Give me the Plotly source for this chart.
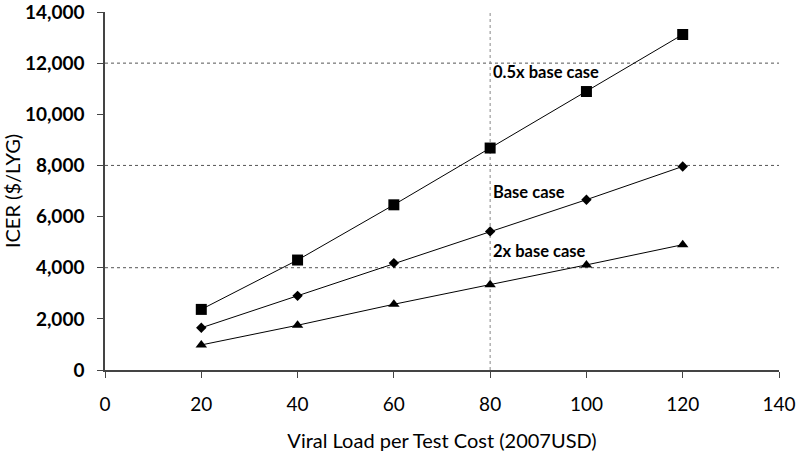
import plotly.graph_objects as go

x_cost = [20, 40, 60, 80, 100, 120]
half_base = [2370, 4300, 6460, 8680, 10890, 13120]
base_case = [1650, 2900, 4180, 5420, 6660, 7960]
double_base = [980, 1750, 2570, 3330, 4110, 4900]
series_names = ["0.5x base case", "Base case", "2x base case"]
y_ticks = [0, 2000, 4000, 6000, 8000, 10000, 12000, 14000]
x_ticks = [0, 20, 40, 60, 80, 100, 120, 140]
grid_y = [4000, 8000, 12000]
grid_x = [80]

fig = go.Figure()
symbols = ["square", "diamond", "triangle-up"]
sizes = [11, 8, 10]
for name, ys, sym, sz in zip(series_names, [half_base, base_case, double_base], symbols, sizes):
    fig.add_trace(go.Scatter(x=x_cost, y=ys, mode="lines+markers", name=name,
                             line=dict(color="black", width=1),
                             marker=dict(symbol=sym, size=sz, color="black"),
                             showlegend=False))

for gy in grid_y:
    fig.add_shape(type="line", xref="paper", x0=0, x1=1, yref="y", y0=gy, y1=gy,
                  line=dict(color="#555555", width=1, dash="dot"), layer="below")
for gx in grid_x:
    fig.add_shape(type="line", xref="x", x0=gx, x1=gx, yref="paper", y0=0, y1=1,
                  line=dict(color="#888888", width=1, dash="dot"), layer="below")

label_pos = [(80, 11650), (80, 6970), (80, 4660)]
for name, (lx, ly) in zip(series_names, label_pos):
    fig.add_annotation(x=lx, y=ly, text="<b>" + name + "</b>", showarrow=False,
                       xanchor="left", xshift=1, font=dict(size=16.5, color="black"))

fig.update_layout(
    width=800, height=459,
    margin=dict(l=105, r=21, t=12, b=89),
    paper_bgcolor="white", plot_bgcolor="white",
    font=dict(family="Lato, Open Sans, sans-serif", color="black"),
    xaxis=dict(range=[0, 140], tickvals=x_ticks, showgrid=False, zeroline=False,
               showline=True, linecolor="#444444", linewidth=1.5,
               ticks="outside", ticklen=6, tickcolor="#444444",
               tickfont=dict(size=19), automargin=False, ticklabeloverflow="allow",
               ticklabelstandoff=10,
               title=dict(text="Viral Load per Test Cost (2007USD)", font=dict(size=20), standoff=20)),
    yaxis=dict(range=[0, 14000], tickvals=y_ticks,
               ticktext=["<b>{:,}</b>".format(v) for v in y_ticks],
               showgrid=False, zeroline=False,
               showline=True, linecolor="#444444", linewidth=1.5,
               ticks="outside", ticklen=6, tickcolor="#444444",
               tickfont=dict(size=19), automargin=False, ticklabeloverflow="allow",
               ticklabelstandoff=9,
               title=dict(text="ICER ($/LYG)", font=dict(size=20), standoff=1)),
)

fig.write_html("out.html", config={"displayModeBar": False},
               post_script="document.body.style.margin='0';")
